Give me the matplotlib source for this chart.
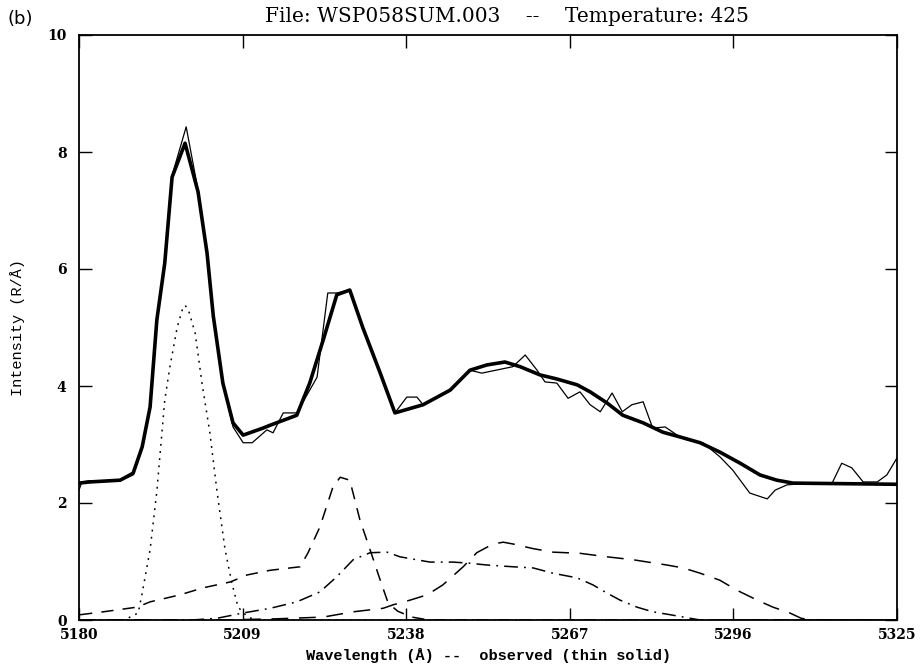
import matplotlib
matplotlib.use("Agg")
import matplotlib.pyplot as plt

# ---------------- data ----------------
fit_wl = [5180.0, 5181.9, 5187.3, 5189.6, 5191.2, 5192.6, 5193.8, 5195.2, 5196.5,
          5198.8, 5201.1, 5202.7, 5203.8, 5205.5, 5207.3, 5209.1, 5212.6, 5213.9,
          5218.6, 5220.9, 5223.3, 5225.7, 5228.0, 5230.3, 5233.4, 5236.0, 5241.0,
          5245.8, 5249.3, 5252.3, 5255.5, 5258.2, 5261.7, 5264.7, 5268.3, 5270.6,
          5273.6, 5276.4, 5280.0, 5283.5, 5286.5, 5290.1, 5293.6, 5297.2, 5300.7,
          5303.7, 5306.6, 5325.0]
fit_int = [2.34, 2.36, 2.39, 2.51, 2.96, 3.64, 5.13, 6.10, 7.57,
           8.15, 7.32, 6.27, 5.20, 4.05, 3.37, 3.16, 3.28, 3.33,
           3.50, 4.05, 4.79, 5.56, 5.64, 5.00, 4.22, 3.54, 3.68,
           3.93, 4.27, 4.36, 4.41, 4.33, 4.19, 4.12, 4.02, 3.90,
           3.71, 3.50, 3.37, 3.21, 3.13, 3.03, 2.87, 2.68, 2.48,
           2.39, 2.34, 2.32]

obs_wl = [5180.0, 5180.5, 5181.9, 5187.3, 5189.6, 5191.2, 5192.6, 5193.8, 5195.2,
          5196.5, 5199.0, 5201.1, 5202.7, 5203.8, 5205.5, 5207.3, 5209.1, 5210.7,
          5213.3, 5214.4, 5216.2, 5218.6, 5222.2, 5224.1, 5225.7, 5228.0, 5230.3,
          5233.4, 5236.0, 5238.1, 5239.9, 5241.0, 5245.8, 5249.3, 5251.4, 5256.9,
          5259.1, 5261.2, 5262.6, 5264.7, 5266.7, 5268.8, 5270.6, 5272.4, 5274.5,
          5276.3, 5278.0, 5280.0, 5281.7, 5283.9, 5286.5, 5287.8, 5290.6, 5293.6,
          5295.9, 5298.9, 5302.0, 5303.4, 5305.5, 5309.6, 5313.5, 5315.2, 5317.0,
          5319.0, 5321.5, 5323.2, 5325.0]
obs_int = [2.22, 2.36, 2.38, 2.38, 2.48, 2.96, 3.64, 5.13, 6.10,
           7.60, 8.43, 7.35, 6.30, 5.20, 4.05, 3.30, 3.03, 3.03,
           3.25, 3.20, 3.54, 3.54, 4.15, 5.59, 5.59, 5.64, 5.00,
           4.22, 3.54, 3.81, 3.81, 3.68, 3.93, 4.27, 4.22, 4.33,
           4.53, 4.27, 4.07, 4.05, 3.79, 3.90, 3.68, 3.56, 3.88,
           3.56, 3.68, 3.73, 3.28, 3.30, 3.13, 3.08, 3.03, 2.79,
           2.56, 2.17, 2.07, 2.22, 2.31, 2.34, 2.34, 2.68, 2.60,
           2.36, 2.36, 2.48, 2.77]

dot_wl = [5180.0, 5188.0, 5190.5, 5191.2, 5192.6, 5193.8, 5195.2, 5196.1, 5197.4,
          5198.3, 5198.8, 5199.4, 5200.6, 5201.8, 5203.2, 5204.5, 5205.9, 5207.1,
          5208.2, 5209.4, 5211.0, 5325.0]
dot_int = [0.0, 0.0, 0.12, 0.46, 1.20, 2.20, 3.76, 4.32, 5.00,
           5.30, 5.38, 5.30, 4.90, 4.05, 3.20, 2.17, 1.20, 0.63,
           0.22, 0.10, 0.0, 0.0]

dash_wl = [5180.2, 5184.3, 5190.3, 5192.6, 5197.9, 5202.0, 5206.8, 5209.8, 5213.9,
           5219.2, 5220.6, 5222.7, 5225.0, 5226.3, 5228.0, 5229.8, 5231.6, 5233.4,
           5234.8, 5236.5, 5239.0, 5242.0, 5325.0]
dash_int = [0.09, 0.14, 0.22, 0.31, 0.43, 0.55, 0.65, 0.77, 0.85,
            0.91, 1.15, 1.59, 2.27, 2.44, 2.39, 1.71, 1.20, 0.68,
            0.29, 0.15, 0.05, 0.0, 0.0]

ldash_wl = [5180.0, 5205.0, 5215.0, 5223.3, 5228.6, 5233.9, 5235.7, 5238.7, 5241.7,
            5244.5, 5248.1, 5250.5, 5253.4, 5255.2, 5256.9, 5260.5, 5264.0, 5268.8,
            5273.6, 5278.2, 5284.2, 5287.1, 5290.1, 5293.6, 5296.6, 5300.2, 5303.0,
            5306.0, 5308.0, 5310.0, 5325.0]
ldash_int = [0.0, 0.0, 0.02, 0.05, 0.14, 0.20, 0.26, 0.34, 0.43,
             0.60, 0.91, 1.15, 1.30, 1.33, 1.30, 1.22, 1.16, 1.14,
             1.08, 1.03, 0.94, 0.89, 0.80, 0.68, 0.51, 0.34, 0.22,
             0.12, 0.03, 0.0, 0.0]

dd_wl = [5180.0, 5200.0, 5204.5, 5209.1, 5213.9, 5218.6, 5222.7, 5225.7, 5228.6,
         5231.6, 5234.6, 5236.9, 5242.2, 5246.3, 5249.3, 5252.3, 5256.9, 5260.5,
         5264.0, 5268.3, 5271.1, 5273.6, 5275.9, 5278.9, 5281.7, 5284.8, 5290.1,
         5325.0]
dd_int = [0.0, 0.0, 0.03, 0.12, 0.20, 0.31, 0.48, 0.74, 1.03,
          1.15, 1.16, 1.08, 0.99, 0.99, 0.97, 0.94, 0.91, 0.89,
          0.80, 0.72, 0.60, 0.46, 0.34, 0.22, 0.14, 0.09, 0.0,
          0.0]

x_ticks = [5180, 5209, 5238, 5267, 5296, 5325]
y_ticks = [0, 2, 4, 6, 8, 10]
title_text = "File: WSP058SUM.003    --    Temperature: 425"
xlabel_text = "Wavelength (Å) --  observed (thin solid)"
ylabel_text = "Intensity (R/Å)"
panel_text = "(b)"

# ---------------- figure ----------------
fig = plt.figure(figsize=(9.23, 6.72), dpi=100)
ax = fig.add_axes([79 / 923, 52 / 672, 818 / 923, 585 / 672])

ax.plot(dot_wl, dot_int, color="black", lw=1.1, linestyle=(0, (1.2, 3.5)))
ax.plot(dash_wl, dash_int, color="black", lw=1.1, linestyle=(0, (8, 6)))
ax.plot(ldash_wl, ldash_int, color="black", lw=1.1, linestyle=(0, (11, 7)))
ax.plot(dd_wl, dd_int, color="black", lw=1.1, linestyle=(0, (9, 4, 1.2, 4)))
ax.plot(obs_wl, obs_int, color="black", lw=0.9)
ax.plot(fit_wl, fit_int, color="black", lw=2.6, solid_joinstyle="round")

ax.set_xlim(5180, 5325)
ax.set_ylim(0, 10)
ax.set_xticks(x_ticks)
ax.set_yticks(y_ticks)
ax.tick_params(direction="in", length=9, width=1.0, top=True, right=True,
               labeltop=False, labelright=False, pad=6)
ax.tick_params(axis="y", pad=9)
for lab in ax.get_xticklabels() + ax.get_yticklabels():
    lab.set_fontfamily("DejaVu Serif")
    lab.set_fontweight("bold")
    lab.set_fontsize(10)
for sp in ax.spines.values():
    sp.set_linewidth(1.3)

ax.set_xlabel(xlabel_text, family="Liberation Mono", fontweight="bold",
              fontsize=11, labelpad=4)
ax.set_ylabel(ylabel_text, family="Liberation Mono", fontsize=11, labelpad=16)
fig.text(0.549, 0.975, title_text, family="DejaVu Serif", fontsize=14.5,
         ha="center", va="center")
fig.text(0.008, 0.972, panel_text, family="DejaVu Sans", fontsize=13,
         ha="left", va="center")

fig.savefig("out.png", dpi=100)
